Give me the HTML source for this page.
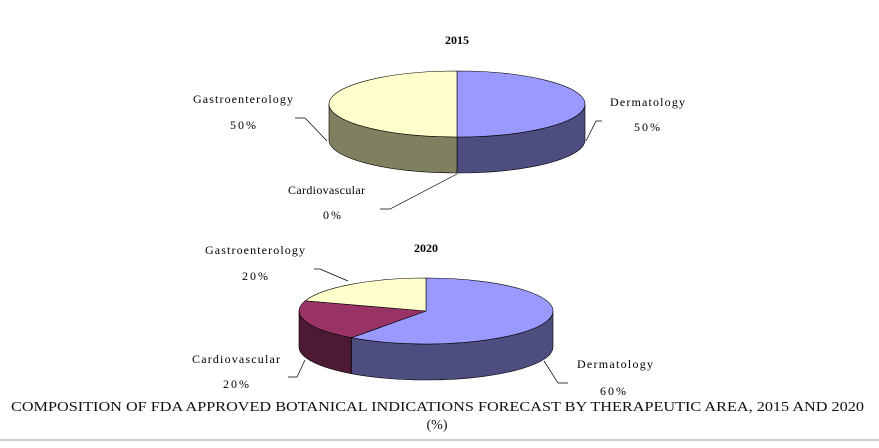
<!DOCTYPE html>
<html><head><style>body{margin:0;background:#fff;width:879px;height:443px;overflow:hidden}</style></head>
<body>
<svg width="879" height="443" xmlns="http://www.w3.org/2000/svg" font-family="Liberation Serif, serif" font-size="12" fill="#000">
<g stroke="#000" stroke-width="0.6">
<path d="M585,104 A128,33 0 0 1 457,137 L457,173 A128,33 0 0 0 585,140 Z" fill="#4d4d80"/>
<path d="M457,137 A128,33 0 0 1 329,104 L329,140 A128,33 0 0 0 457,173 Z" fill="#808060"/>
<path d="M457,104 L457,71 A128,33 0 0 1 457,137 Z" fill="#9999ff"/>
<path d="M457,104 L457,137 A128,33 0 0 1 457,71 Z" fill="#ffffcc"/>
<path d="M553,311 A127,33 0 0 1 351.4,337.7 L351.4,373.7 A127,33 0 0 0 553,347 Z" fill="#4d4d80"/>
<path d="M351.4,337.7 A127,33 0 0 1 299,311 L299,347 A127,33 0 0 0 351.4,373.7 Z" fill="#4d1a33"/>
<path d="M426,311 L426,278 A127,33 0 1 1 351.4,337.7 Z" fill="#9999ff"/>
<path d="M426,311 L351.4,337.7 A127,33 0 0 1 305.2,300.8 Z" fill="#993366"/>
<path d="M426,311 L305.2,300.8 A127,33 0 0 1 426,278 Z" fill="#ffffcc"/>
</g>
<g stroke="#000" stroke-width="0.7" fill="none">
<polyline points="295,118 305,118 327,141"/>
<polyline points="602,121 596,121 586,141"/>
<polyline points="380,209 390,209 457,174"/>
<polyline points="314,269 320,269 348,281"/>
<polyline points="288,377 297,377 305,360"/>
<polyline points="568,383 558,383 544,361"/>
</g>
<text x="457" y="44" text-anchor="middle" font-weight="bold" font-size="12">2015</text>
<text x="426" y="252" text-anchor="middle" font-weight="bold" font-size="12">2020</text>
<g>
<text x="193" y="103" textLength="100" lengthAdjust="spacing">Gastroenterology</text>
<text x="230" y="129" textLength="26">50%</text>
<text x="610" y="106" textLength="75" lengthAdjust="spacing">Dermatology</text>
<text x="634" y="131" textLength="26">50%</text>
<text x="288" y="194" textLength="77" lengthAdjust="spacing">Cardiovascular</text>
<text x="323" y="219" textLength="18">0%</text>
<text x="205" y="254" textLength="100" lengthAdjust="spacing">Gastroenterology</text>
<text x="242" y="280" textLength="26">20%</text>
<text x="192" y="363" textLength="88" lengthAdjust="spacing">Cardiovascular</text>
<text x="223" y="388" textLength="26">20%</text>
<text x="577" y="368" textLength="76" lengthAdjust="spacing">Dermatology</text>
<text x="600" y="395" textLength="26">60%</text>
</g>
<text x="11" y="411" font-size="14" fill="#111" textLength="853" lengthAdjust="spacingAndGlyphs">COMPOSITION OF FDA APPROVED BOTANICAL INDICATIONS FORECAST BY THERAPEUTIC AREA, 2015 AND 2020</text>
<text x="437" y="429" text-anchor="middle" font-size="14" fill="#111">(%)</text>
<line x1="0" y1="440" x2="879" y2="440" stroke="#999" stroke-width="1"/>
</svg>
</body></html>
